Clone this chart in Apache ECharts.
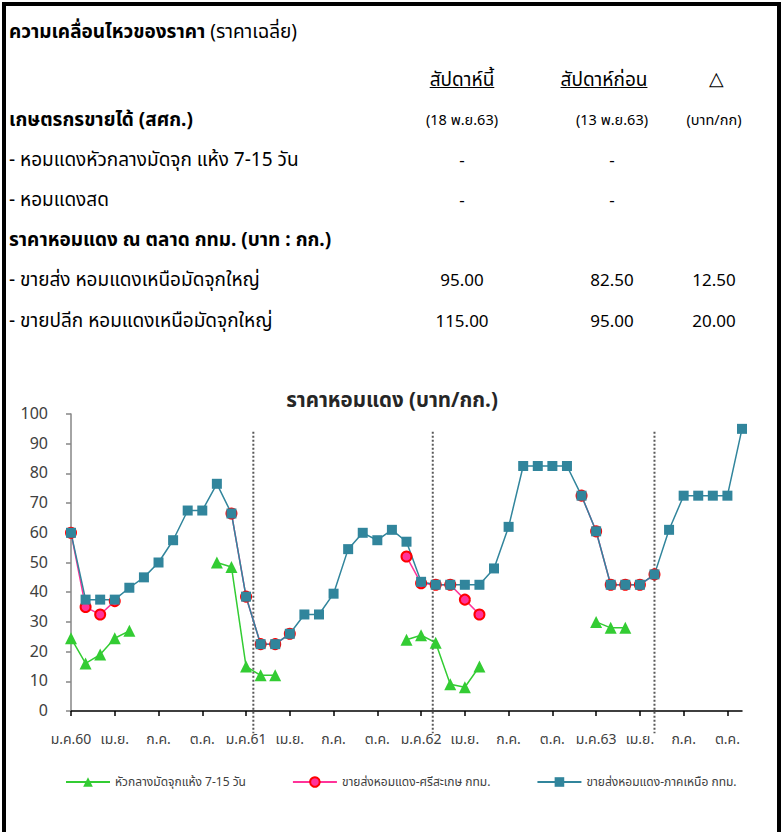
<!DOCTYPE html>
<html>
<head>
<meta charset="utf-8">
<script src="https://cdn.jsdelivr.net/npm/echarts@6/dist/echarts.min.js"></script>
<style>
  html, body { margin: 0; padding: 0; background: #fff; overflow: hidden; }
  #wrap { position: relative; width: 784px; height: 832px; overflow: hidden; }
  #frame { position: absolute; left: 2px; top: 2px; width: 771px; height: 900px; border: 4px solid #000; }
  #chart { position: absolute; left: 0; top: 0; width: 784px; height: 832px; }
  .t { position: absolute; white-space: nowrap; font-family: 'Noto Sans Thai', Tahoma, 'Noto Sans', sans-serif; color: #000; font-size: 19px; line-height: 22px; }
  .b { font-weight: bold; }
  .c { transform: translateX(-50%); }
  .u { text-decoration: underline; }
  .s { font-size: 14.5px; }
  .n { font-size: 17px; }
  .d { font-size: 19px; }
</style>
</head>
<body>
<div id="wrap">
  <div id="chart"></div>
  <div id="frame"></div>
  <div id="table"></div>
</div>
<script>
// ---- table data ----
const tableTitle = 'ความเคลื่อนไหวของราคา';
const tableSubtitle = ' (ราคาเฉลี่ย)';
const colHeaders = ['สัปดาห์นี้', 'สัปดาห์ก่อน', '△'];
const groupFarm = 'เกษตรกรขายได้ (สศก.)';
const colDates = ['(18 พ.ย.63)', '(13 พ.ย.63)', '(บาท/กก)'];
const farmRows = ['- หอมแดงหัวกลางมัดจุก แห้ง 7-15 วัน', '- หอมแดงสด'];
const farmThisWeek = ['-', '-'];
const farmLastWeek = ['-', '-'];
const groupMarket = 'ราคาหอมแดง ณ ตลาด กทม. (บาท : กก.)';
const marketRows = ['- ขายส่ง หอมแดงเหนือมัดจุกใหญ่', '- ขายปลีก หอมแดงเหนือมัดจุกใหญ่'];
const marketThisWeek = ['95.00', '115.00'];
const marketLastWeek = ['82.50', '95.00'];
const marketChange = ['12.50', '20.00'];

// ---- chart data ----
const chartTitle = 'ราคาหอมแดง (บาท/กก.)';
const tickLabels = ['ม.ค.60','เม.ย.','ก.ค.','ต.ค.','ม.ค.61','เม.ย.','ก.ค.','ต.ค.','ม.ค.62','เม.ย.','ก.ค.','ต.ค.','ม.ค.63','เม.ย.','ก.ค.','ต.ค.'];
const seriesNames = ['หัวกลางมัดจุกแห้ง 7-15 วัน', 'ขายส่งหอมแดง-ศรีสะเกษ กทม.', 'ขายส่งหอมแดง-ภาคเหนือ กทม.'];
const farmDry = [24.5,16,19,24.5,27,null,null,null,null,null,50,48.5,15,12,12,null,null,null,null,null,null,null,null,24,25.5,23,9,8,15,null,null,null,null,null,null,null,30,28,28,null,null,null,null,null,null,null,null];
const wholesaleSisaket = [60,35,32.5,37,null,null,null,null,null,null,null,66.5,38.5,22.5,22.5,26,null,null,null,null,null,null,null,52,43,42.5,42.5,37.5,32.5,null,null,null,null,null,null,72.5,60.5,42.5,42.5,42.5,46,null,null,null,null,null,null];
const wholesaleNorth = [60,37.5,37.5,37.5,41.5,45,50,57.5,67.5,67.5,76.5,66.5,38.5,22.5,22.5,26,32.5,32.5,39.5,54.5,60,57.5,61,57,43.5,42.5,42.5,42.5,42.5,48,62,82.5,82.5,82.5,82.5,72.5,60.5,42.5,42.5,42.5,46,61,72.5,72.5,72.5,72.5,95];
const dividerAt = [12.5, 24.8, 40];

// ---- build table ----
const tbl = document.getElementById('table');
function addText(txt, x, y, cls) {
  const d = document.createElement('div');
  d.className = 't ' + (cls || '');
  d.style.left = x + 'px';
  d.style.top = (y - 11) + 'px';
  d.textContent = txt;
  tbl.appendChild(d);
  return d;
}
const t1 = addText('', 9, 33, '');
const tb = document.createElement('span'); tb.className = 'b'; tb.textContent = tableTitle; t1.appendChild(tb);
const ts = document.createElement('span'); ts.textContent = tableSubtitle; t1.appendChild(ts);
const colX = [462, 612, 716];
addText(colHeaders[0], colX[0], 81, 'c u');
addText(colHeaders[1], colX[1] - 8, 81, 'c u');
addText(colHeaders[2], colX[2], 80, 'c d');
addText(groupFarm, 9, 121, 'b');
addText(colDates[0], colX[0], 121, 'c s');
addText(colDates[1], colX[1], 121, 'c s');
addText(colDates[2], colX[2] - 2, 121, 'c s');
farmRows.forEach((r, i) => {
  const y = 161 + i * 40;
  addText(r, 9, y, '');
  addText(farmThisWeek[i], colX[0], y, 'c n');
  addText(farmLastWeek[i], colX[1], y, 'c n');
});
addText(groupMarket, 9, 241, 'b');
marketRows.forEach((r, i) => {
  const y = 281 + i * 41;
  addText(r, 9, y, '');
  addText(marketThisWeek[i], colX[0], y, 'c n');
  addText(marketLastWeek[i], colX[1], y, 'c n');
  addText(marketChange[i], colX[2] - 2, y, 'c n');
});

// ---- chart ----
const chart = echarts.init(document.getElementById('chart'), null, { renderer: 'svg' });
const toPairs = arr => arr.map((v, i) => [i, v]);
const FONT = "'Noto Sans Thai', Tahoma, 'Noto Sans', sans-serif";
const option = {
  animation: false,
  textStyle: { fontFamily: FONT },
  title: {
    text: chartTitle, left: 'center', top: 385,
    textStyle: { fontFamily: FONT, fontSize: 20.5, fontWeight: 'bold', color: '#262626' }
  },
  legend: {
    left: 65, top: 776, itemWidth: 44, itemHeight: 12, itemGap: 46, padding: 0,
    textStyle: { fontFamily: FONT, fontSize: 12, color: '#404040' },
    data: seriesNames
  },
  grid: { left: 71, right: 42, top: 414, bottom: 121 },
  xAxis: {
    type: 'value', min: 0, max: 46, interval: 3,
    splitLine: { show: false },
    axisLine: { show: true, lineStyle: { color: '#000', width: 1.5 } },
    axisTick: { show: true, length: 5, lineStyle: { color: '#000', width: 1.5 } },
    axisLabel: {
      fontFamily: FONT, fontSize: 14, color: '#404040', margin: 21,
      showMaxLabel: false,
      formatter: v => tickLabels[Math.round(v / 3)] || ''
    }
  },
  yAxis: {
    type: 'value', min: 0, max: 100, interval: 10,
    splitLine: { show: false },
    axisLine: { show: true, lineStyle: { color: '#868686', width: 1.5 } },
    axisTick: { show: true, length: 5, lineStyle: { color: '#868686', width: 1.5 } },
    axisLabel: { fontFamily: FONT, fontSize: 16, color: '#404040', margin: 23 }
  },
  series: [
    {
      name: seriesNames[0], type: 'line', data: toPairs(farmDry),
      symbol: 'triangle', symbolSize: 12,
      lineStyle: { color: '#33CC33', width: 1.5 },
      itemStyle: { color: '#33CC33' }
    },
    {
      name: seriesNames[1], type: 'line', data: toPairs(wholesaleSisaket),
      symbol: 'circle', symbolSize: 10,
      lineStyle: { color: '#FF3399', width: 1.5 },
      itemStyle: { color: '#FF3399', borderColor: '#FF0000', borderWidth: 2 }
    },
    {
      name: seriesNames[2], type: 'line', data: toPairs(wholesaleNorth),
      symbol: 'rect', symbolSize: 10,
      lineStyle: { color: '#31859C', width: 1.5 },
      itemStyle: { color: '#31859C' }
    }
  ]
};
chart.setOption(option);

// dotted separators through the plot and axis labels
const gfx = dividerAt.map(x => {
  const p1 = chart.convertToPixel({ gridIndex: 0 }, [x, 94]);
  const p2 = chart.convertToPixel({ gridIndex: 0 }, [x, -7.5]);
  return {
    type: 'line', silent: true, z: 1,
    shape: { x1: p1[0], y1: p1[1], x2: p2[0], y2: p2[1] },
    style: { stroke: '#595959', lineWidth: 2, lineDash: [2, 2] }
  };
});
chart.setOption({ graphic: gfx });
</script>
</body>
</html>
